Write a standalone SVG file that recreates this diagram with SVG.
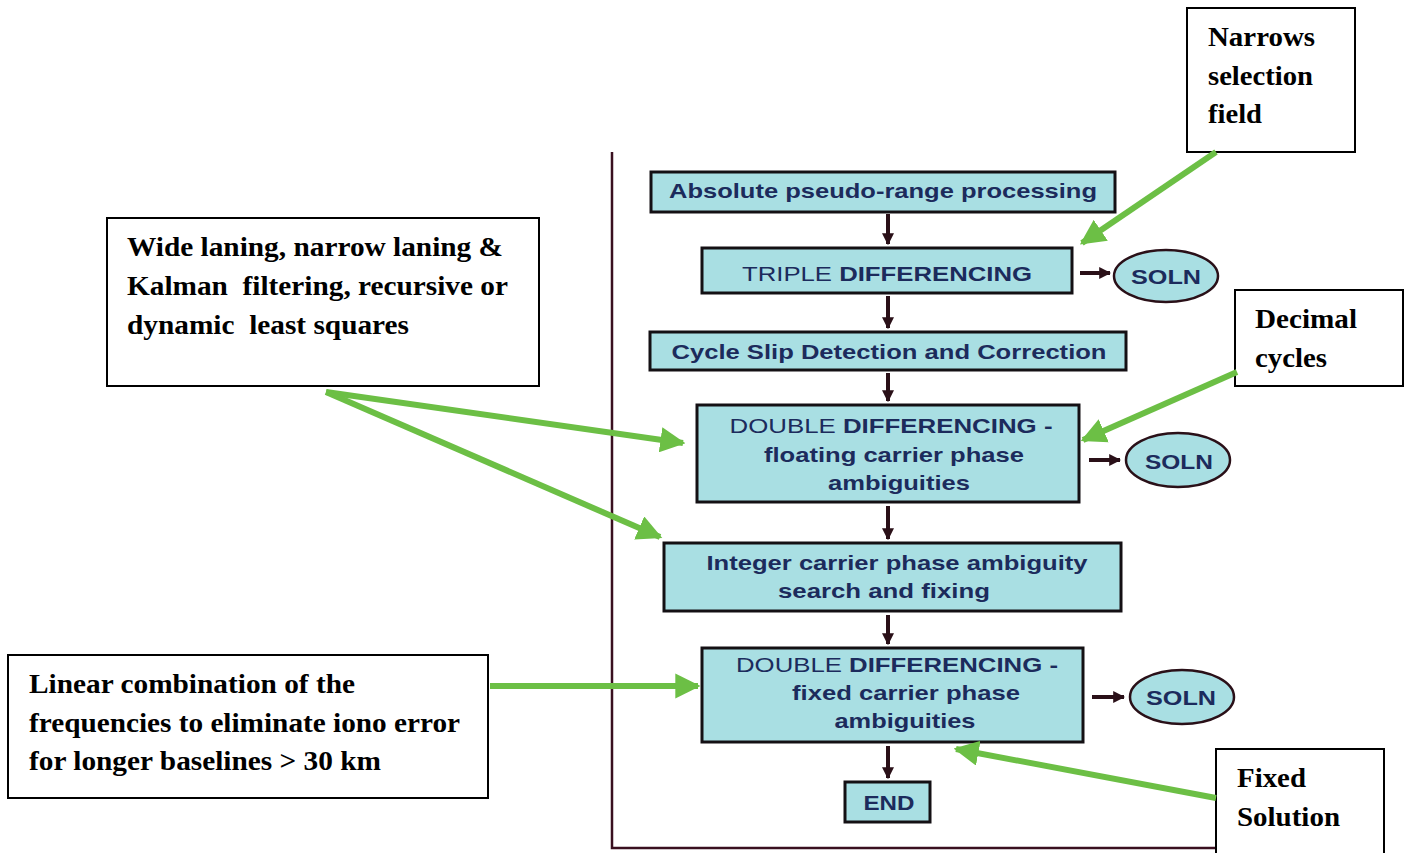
<svg xmlns="http://www.w3.org/2000/svg" width="1405" height="853" viewBox="0 0 1405 853">
<defs>
<style>
.node{fill:#a9dfe3;stroke:#141014;stroke-width:3}
.ft{font-family:"Liberation Sans",Arial,sans-serif;font-weight:bold;font-size:21px;fill:#1c2b5c;text-anchor:middle}
.fn{font-weight:normal}
.ann{fill:#fff;stroke:#000;stroke-width:2}
.at{font-family:"Liberation Serif","Times New Roman",serif;font-weight:bold;font-size:28px;fill:#000}
.ell{fill:#a9dfe3;stroke:#2a1018;stroke-width:2.5}
.dn{stroke:#2a1018;stroke-width:4;fill:none}
.grn{stroke:#6cbf45;stroke-width:6;fill:none}
</style>
<marker id="ah" viewBox="0 0 10 10" refX="9" refY="5" markerWidth="3" markerHeight="3" orient="auto" markerUnits="strokeWidth">
<path d="M0,0 L10,5 L0,10 z" fill="#2a1018"/>
</marker>
<marker id="ga" viewBox="0 0 10 10" refX="9" refY="5" markerWidth="4.2" markerHeight="4.2" orient="auto" markerUnits="strokeWidth">
<path d="M0,0 L10,5 L0,10 z" fill="#6cbf45"/>
</marker>
</defs>
<rect width="1405" height="853" fill="#fff"/>
<g id="frame" fill="none" stroke="#3a1020" stroke-width="2.5">
<path d="M612,152 V848 H1216"/>
</g>
<g id="n1"><rect class="node" x="651" y="172" width="464" height="40"/><text class="ft" x="883" y="198" textLength="428" lengthAdjust="spacingAndGlyphs">Absolute pseudo-range processing</text></g>
<g id="n2"><rect class="node" x="702" y="248" width="370" height="45"/><text class="ft" x="887" y="281" textLength="290" lengthAdjust="spacingAndGlyphs"><tspan class="fn">TRIPLE </tspan>DIFFERENCING</text></g>
<g id="s1"><ellipse class="ell" cx="1166" cy="276" rx="52" ry="26"/><text class="ft" x="1166" y="284" textLength="70" lengthAdjust="spacingAndGlyphs">SOLN</text></g>
<g id="n3"><rect class="node" x="650" y="332" width="476" height="38"/><text class="ft" x="889" y="359" textLength="435" lengthAdjust="spacingAndGlyphs">Cycle Slip Detection and Correction</text></g>
<g id="n4"><rect class="node" x="697" y="405" width="382" height="97"/>
<text class="ft" x="891" y="433" textLength="323" lengthAdjust="spacingAndGlyphs"><tspan class="fn">DOUBLE </tspan>DIFFERENCING -</text>
<text class="ft" x="894" y="462" textLength="260" lengthAdjust="spacingAndGlyphs">floating carrier phase</text>
<text class="ft" x="899" y="490" textLength="142" lengthAdjust="spacingAndGlyphs">ambiguities</text></g>
<g id="s2"><ellipse class="ell" cx="1178" cy="460" rx="52" ry="27"/><text class="ft" x="1179" y="469" textLength="68" lengthAdjust="spacingAndGlyphs">SOLN</text></g>
<g id="n5"><rect class="node" x="664" y="543" width="457" height="68"/>
<text class="ft" x="897" y="570" textLength="381" lengthAdjust="spacingAndGlyphs">Integer carrier phase ambiguity</text>
<text class="ft" x="884" y="598" textLength="212" lengthAdjust="spacingAndGlyphs">search and fixing</text></g>
<g id="n6"><rect class="node" x="702" y="648" width="381" height="94"/>
<text class="ft" x="897" y="672" textLength="322" lengthAdjust="spacingAndGlyphs"><tspan class="fn">DOUBLE </tspan>DIFFERENCING -</text>
<text class="ft" x="906" y="700" textLength="228" lengthAdjust="spacingAndGlyphs">fixed carrier phase</text>
<text class="ft" x="905" y="728" textLength="141" lengthAdjust="spacingAndGlyphs">ambiguities</text></g>
<g id="s3"><ellipse class="ell" cx="1182" cy="697" rx="52" ry="27"/><text class="ft" x="1181" y="705" textLength="70" lengthAdjust="spacingAndGlyphs">SOLN</text></g>
<g id="n7"><rect class="node" x="845" y="782" width="85" height="40"/><text class="ft" x="889" y="810" textLength="51" lengthAdjust="spacingAndGlyphs">END</text></g>
<g id="a-narrows"><rect class="ann" x="1187" y="8" width="168" height="144"/>
<text class="at" x="1208" y="46" textLength="107" lengthAdjust="spacingAndGlyphs">Narrows</text>
<text class="at" x="1208" y="85" textLength="105" lengthAdjust="spacingAndGlyphs">selection</text>
<text class="at" x="1208" y="123" textLength="54" lengthAdjust="spacingAndGlyphs">field</text></g>
<g id="a-wide"><rect class="ann" x="107" y="218" width="432" height="168"/>
<text class="at" x="127" y="256" textLength="376" lengthAdjust="spacingAndGlyphs">Wide laning, narrow laning &amp;</text>
<text class="at" x="127" y="295" xml:space="preserve" textLength="381" lengthAdjust="spacingAndGlyphs">Kalman  filtering, recursive or</text>
<text class="at" x="127" y="334" xml:space="preserve" textLength="282" lengthAdjust="spacingAndGlyphs">dynamic  least squares</text></g>
<g id="a-decimal"><rect class="ann" x="1235" y="290" width="168" height="96"/>
<text class="at" x="1255" y="328" textLength="102" lengthAdjust="spacingAndGlyphs">Decimal</text>
<text class="at" x="1255" y="367" textLength="72" lengthAdjust="spacingAndGlyphs">cycles</text></g>
<g id="a-linear"><rect class="ann" x="8" y="655" width="480" height="143"/>
<text class="at" x="29" y="693" textLength="326" lengthAdjust="spacingAndGlyphs">Linear combination of the</text>
<text class="at" x="29" y="732" textLength="431" lengthAdjust="spacingAndGlyphs">frequencies to eliminate iono error</text>
<text class="at" x="29" y="770" textLength="352" lengthAdjust="spacingAndGlyphs">for longer baselines &gt; 30 km</text></g>
<g id="a-fixed"><rect class="ann" x="1216" y="749" width="168" height="110"/>
<text class="at" x="1237" y="787" textLength="69" lengthAdjust="spacingAndGlyphs">Fixed</text>
<text class="at" x="1237" y="826" textLength="103" lengthAdjust="spacingAndGlyphs">Solution</text></g>
<g id="connectors">
<path class="dn" d="M888,214 V244" marker-end="url(#ah)"/>
<path class="dn" d="M888,296 V328" marker-end="url(#ah)"/>
<path class="dn" d="M888,373 V401" marker-end="url(#ah)"/>
<path class="dn" d="M888,506 V539" marker-end="url(#ah)"/>
<path class="dn" d="M888,615 V644" marker-end="url(#ah)"/>
<path class="dn" d="M888,746 V778" marker-end="url(#ah)"/>
<path class="dn" d="M1080,273 H1110" marker-end="url(#ah)"/>
<path class="dn" d="M1089,460 H1120" marker-end="url(#ah)"/>
<path class="dn" d="M1092,697 H1124" marker-end="url(#ah)"/>
<path class="grn" d="M1216,152 L1082,243" marker-end="url(#ga)"/>
<path class="grn" d="M1237,372 L1083,440" marker-end="url(#ga)"/>
<path class="grn" d="M326,392 L683,443" marker-end="url(#ga)"/>
<path class="grn" d="M326,392 L660,537" marker-end="url(#ga)"/>
<path class="grn" d="M490,686 L698,686" marker-end="url(#ga)"/>
<path class="grn" d="M1216,798 L956,749" marker-end="url(#ga)"/>
</g>
</svg>
